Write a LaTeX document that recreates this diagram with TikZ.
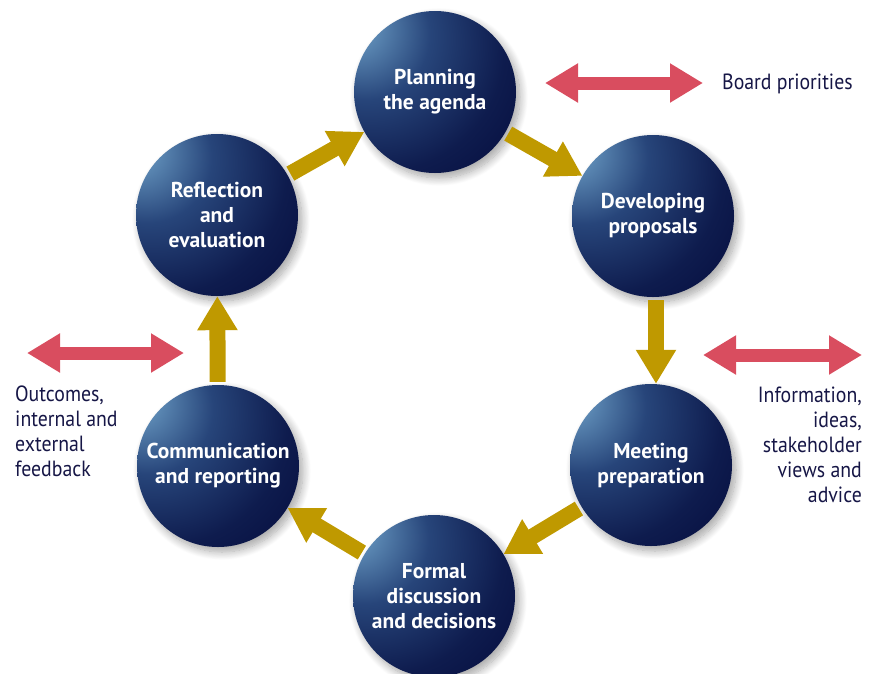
\documentclass[tikz,border=0pt]{standalone}
\usepackage{fontspec}
\setmainfont{PT Sans}[FakeStretch=0.9]
\newfontfamily\orbfont{PT Sans}
\usetikzlibrary{arrows.meta,shadows.blur}

\definecolor{navy}{RGB}{3,9,58}
\definecolor{midblue}{RGB}{48,84,138}
\definecolor{hilite}{RGB}{104,152,192}
\definecolor{gold}{RGB}{191,153,0}
\definecolor{rose}{RGB}{217,77,95}
\definecolor{ink}{RGB}{22,22,70}

% glossy sphere: light spot up and to the left, deep navy rim
\pgfdeclareradialshading{orb}{\pgfpoint{-27bp}{22bp}}{%
  color(0bp)=(hilite); color(6bp)=(hilite!85!midblue);
  color(20bp)=(midblue!80!navy); color(38bp)=(navy!75!midblue);
  color(56bp)=(navy); color(100bp)=(navy)}

\tikzset{
  stage/.style={circle, minimum size=162pt, inner sep=0pt, shading=orb,
    blur shadow={shadow xshift=4pt, shadow yshift=-5pt, shadow blur radius=8pt,
      shadow blur steps=12, shadow opacity=35},
    text=white, align=center,
    font=\orbfont\fontsize{21.5}{25}\selectfont\bfseries},
  flow/.style={draw=gold, line width=16pt, shorten <=3pt,
    -{Triangle[width=38pt,length=34pt]}},
  exchange/.style={draw=rose, line width=13pt,
    {Triangle[width=37pt,length=33pt]}-{Triangle[width=37pt,length=33pt]}},
  note/.style={text=ink, inner sep=0pt, font=\fontsize{22}{25}\selectfont}
}

\begin{document}
\begin{tikzpicture}[x=1pt,y=-1pt]
\useasboundingbox (0,0) rectangle (873,673);

% the six stages of the cycle
\node[stage] (plan) at (435,92)  {Planning\\the agenda};
\node[stage] (dev)  at (653,216) {Developing\\proposals};
\node[stage] (meet) at (651,465) {Meeting\\preparation};
\node[stage] (form) at (434,596) {Formal\\discussion\\and decisions};
\node[stage] (comm) at (218,466) {Communication\\and reporting};
\node[stage] (refl) at (217,215) {Reflection\\and\\evaluation};

% clockwise flow between stages
\draw[flow] (refl) -- (plan);
\draw[flow] (plan) -- (dev);
\draw[flow] ([xshift=3pt]dev.south) -- ([xshift=5pt]meet.north);
\draw[flow] (meet) -- (form);
\draw[flow] (form) -- (comm);
\draw[flow] (comm) -- (refl);

% two-way exchanges with the outside
\coordinate (bpL) at (545,83);  \coordinate (bpR) at (703,83);
\coordinate (ocL) at (27,353);  \coordinate (ocR) at (184,353);
\coordinate (inL) at (703,355); \coordinate (inR) at (862,355);
\draw[exchange] (bpL) -- (bpR);
\draw[exchange] (ocL) -- (ocR);
\draw[exchange] (inL) -- (inR);

\node[note, anchor=base west] (bp) at (722,89) {Board priorities};
\node[note, anchor=north west, align=left] (oc) at (15,386)
  {Outcomes,\\internal and\\external\\feedback};
\node[note, anchor=north east, align=right] (info) at (862,387)
  {Information,\\ideas,\\stakeholder\\views and\\advice};
\end{tikzpicture}
\end{document}
